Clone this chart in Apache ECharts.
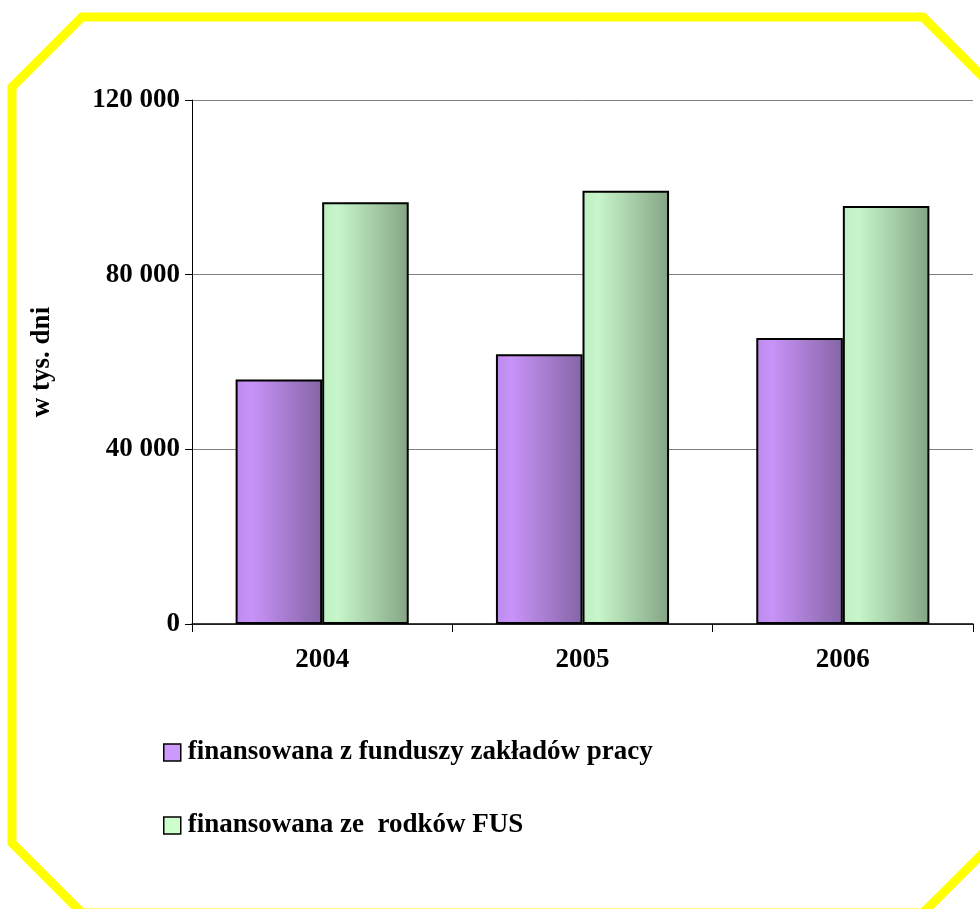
<!DOCTYPE html>
<html>
<head>
<meta charset="utf-8">
<script src="https://cdn.jsdelivr.net/npm/echarts@6/dist/echarts.min.js"></script>
<style>
html,body{margin:0;padding:0;background:#fff;}
#chart{width:980px;height:909px;}
</style>
</head>
<body>
<div id="chart"></div>
<script>
const categories = ['2004', '2005', '2006'];
const seriesNames = ['finansowana z funduszy zakładów pracy', 'finansowana ze  rodków FUS'];
const zakladyPracy = [56000, 61800, 65500];
const fus = [96600, 99200, 95700];
const yTicks = [0, 40000, 80000, 120000];

const FONT = "'Liberation Serif', 'Times New Roman', serif";

function grad(c0, c1, c2) {
  return new echarts.graphic.LinearGradient(0, 0, 1, 0, [
    { offset: 0, color: c0 },
    { offset: 0.18, color: c1 },
    { offset: 1, color: c2 }
  ]);
}

const chart = echarts.init(document.getElementById('chart'), null, { renderer: 'canvas' });
chart.setOption({
  animation: false,
  backgroundColor: '#ffffff',
  graphic: [{
    type: 'polygon',
    z: 100,
    shape: {
      points: [[82, 17], [923, 17], [993, 87], [993, 843], [923, 913], [82, 913], [12, 843], [12, 87]]
    },
    style: { fill: 'none', stroke: '#FFFF00', lineWidth: 9 }
  }],
  grid: { left: 192, top: 100, right: 7, bottom: 285, containLabel: false },
  legend: {
    orient: 'vertical',
    left: 163,
    top: 739,
    padding: 0,
    itemWidth: 17,
    itemHeight: 17,
    itemGap: 46,
    icon: 'rect',
    textStyle: { fontFamily: FONT, fontWeight: 'bold', fontSize: 27, color: '#000', padding: [0, 0, 0, 2] },
    data: [
      { name: seriesNames[0], itemStyle: { color: '#CC99FF', borderColor: '#000', borderWidth: 1.5 } },
      { name: seriesNames[1], itemStyle: { color: '#CCFFCC', borderColor: '#000', borderWidth: 1.5 } }
    ]
  },
  xAxis: {
    type: 'category',
    data: categories,
    axisLine: { lineStyle: { color: '#000', width: 1.5 } },
    axisTick: { show: true, inside: false, length: 8, lineStyle: { color: '#000' } },
    axisLabel: { fontFamily: FONT, fontWeight: 'bold', fontSize: 27, color: '#000', margin: 23 }
  },
  yAxis: {
    type: 'value',
    min: yTicks[0],
    max: yTicks[yTicks.length - 1],
    interval: 40000,
    name: 'w tys. dni',
    nameLocation: 'middle',
    nameGap: 136,
    nameRotate: 90,
    nameTextStyle: { fontFamily: FONT, fontWeight: 'bold', fontSize: 27, color: '#000' },
    axisLine: { show: true, lineStyle: { color: '#000', width: 1 } },
    axisTick: { show: true, inside: false, length: 7, lineStyle: { color: '#000' } },
    axisLabel: {
      fontFamily: FONT, fontWeight: 'bold', fontSize: 27, color: '#000', margin: 12,
      formatter: v => String(v).replace(/\B(?=(\d{3})+(?!\d))/g, ' ')
    },
    splitLine: { show: true, lineStyle: { color: '#808080', width: 1 } }
  },
  series: [
    {
      name: seriesNames[0],
      type: 'bar',
      data: zakladyPracy,
      barGap: '0%',
      barCategoryGap: '33.5%',
      itemStyle: { color: grad('#BE8AEE', '#C893F8', '#8565A6'), borderColor: '#000', borderWidth: 2 }
    },
    {
      name: seriesNames[1],
      type: 'bar',
      data: fus,
      barGap: '0%',
      barCategoryGap: '33.5%',
      itemStyle: { color: grad('#BEEEC2', '#C6F6CA', '#84A484'), borderColor: '#000', borderWidth: 2 }
    }
  ]
});
</script>
</body>
</html>
